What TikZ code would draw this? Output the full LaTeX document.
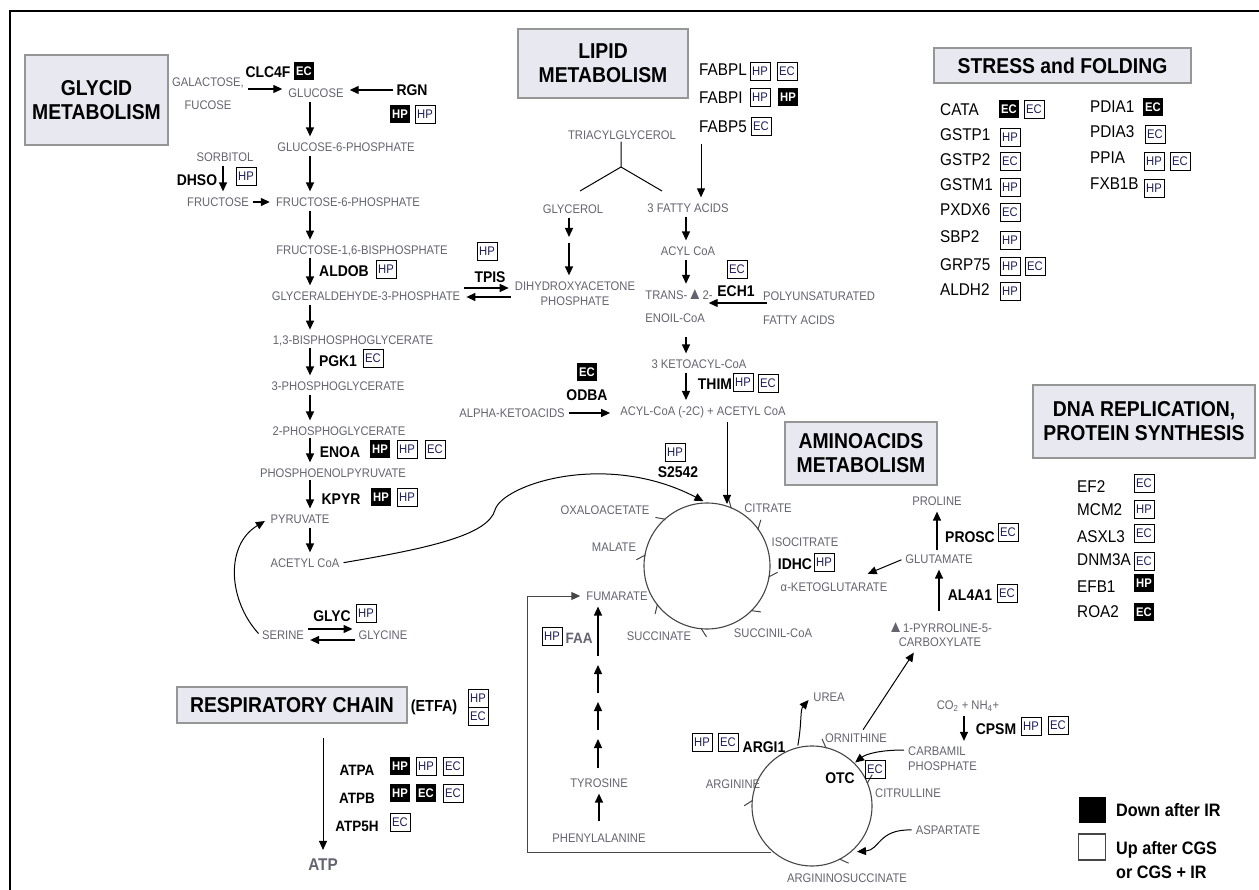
\documentclass[tikz,border=0pt]{standalone}
\usepackage{fontspec}
\setmainfont{Liberation Sans}[FakeStretch=0.9]
\usetikzlibrary{arrows.meta,decorations.markings}

\definecolor{metcol}{RGB}{100,100,112}
\definecolor{tagcol}{RGB}{30,30,90}
\definecolor{ttlfill}{RGB}{232,233,240}
\definecolor{ttlline}{RGB}{150,150,150}
\definecolor{cyccol}{RGB}{70,70,70}

\newcommand{\cycbarb}{\arrow{Straight Barb[harpoon,length=6pt,width=15pt,line width=1pt]}}
\newcommand{\dlt}{{\fontsize{17}{17}\selectfont ▲}}

\tikzset{
  met/.style={text=metcol, font=\fontsize{12.5}{14}\selectfont, inner sep=2pt},
  enz/.style={font=\bfseries\fontsize{15.5}{17}\selectfont, inner sep=1pt},
  gene/.style={anchor=west, font=\fontsize{17}{19}\selectfont, inner sep=0pt},
  ttl/.style={draw=ttlline, fill=ttlfill, line width=1.2pt, align=center, inner sep=0pt,
    font=\bfseries\fontsize{21.5}{24}\selectfont},
  tagup/.style={draw, line width=0.9pt, text=tagcol, minimum width=20pt, minimum height=18pt,
    inner sep=0pt, font=\fontsize{12.5}{13}\selectfont},
  tagdn/.style={fill=black, text=white, minimum width=20pt, minimum height=18pt,
    inner sep=0pt, font=\bfseries\fontsize{12.5}{13}\selectfont},
  arr/.style={-{Triangle[length=9pt,width=8pt]}, line width=1.3pt, shorten <=2pt, shorten >=4pt},
  arrc/.style={arr, line width=1pt},
  cyc/.style={draw=cyccol, line width=1.1pt},
  leg/.style={font=\bfseries\fontsize{18}{24}\selectfont, inner sep=0pt, anchor=west, align=left},
  tcamarks/.style={postaction={decorate}, decoration={markings,
    mark=at position 0.065 with {\cycbarb},
    mark=at position 0.153 with {\cycbarb},
    mark=at position 0.280 with {\cycbarb},
    mark=at position 0.378 with {\cycbarb},
    mark=at position 0.517 with {\cycbarb},
    mark=at position 0.647 with {\cycbarb},
    mark=at position 0.780 with {\cycbarb},
    mark=at position 0.886 with {\cycbarb}}},
  ureamarks/.style={postaction={decorate}, decoration={markings,
    mark=at position 0.040 with {\cycbarb},
    mark=at position 0.190 with {\cycbarb},
    mark=at position 0.426 with {\cycbarb},
    mark=at position 0.767 with {\cycbarb}}},
}

\begin{document}
\begin{tikzpicture}[x=1pt,y=-1pt]
  \useasboundingbox (0,0) rectangle (1259,890);
  \draw[line width=2pt] (10,890) -- (10,11) -- (1259,11);

  % titles
  \node[ttl, minimum width=143pt, minimum height=90pt] (tglycid) at (96.5,100) {GLYCID\\METABOLISM};
  \node[ttl, minimum width=170pt, minimum height=69pt] (tlipid) at (603,63.5) {LIPID\\METABOLISM};
  \node[ttl, minimum width=257pt, minimum height=35pt] (tstress) at (1062.5,65.5) {STRESS and FOLDING};
  \node[ttl, minimum width=222pt, minimum height=73pt] (tdna) at (1144,421.5) {DNA REPLICATION,\\PROTEIN SYNTHESIS};
  \node[ttl, minimum width=152pt, minimum height=63pt] (tamino) at (861,453.5) {AMINOACIDS\\METABOLISM};
  \node[ttl, minimum width=230pt, minimum height=36pt] (tresp) at (292,705) {RESPIRATORY CHAIN};

  % glycid metabolism
  \coordinate (gx) at (310,0);
  \coordinate (dx) at (223,0);
  \node[met, align=center, font=\fontsize{12.5}{23}\selectfont] (galfuc) at (208,94) {GALACTOSE,\\FUCOSE};
  \node[enz] (clc4f) at (268,72) {CLC4F};
  \node[tagdn] (clc4fa) at (304,71) {EC};
  \node[met] (glc) at (316,93) {GLUCOSE};
  \node[enz] (rgn) at (412,90) {RGN};
  \node[tagdn] (rgna) at (400,114) {HP};
  \node[tagup] (rgnb) at (425,114) {HP};
  \node[met] (g6p) at (346,147) {GLUCOSE-6-PHOSPHATE};
  \node[met] (sorb) at (225,157) {SORBITOL};
  \node[enz] (dhso) at (197,180) {DHSO};
  \node[tagup] (dhsoa) at (246,176) {HP};
  \node[met] (fru) at (218,202) {FRUCTOSE};
  \node[met] (f6p) at (348,202) {FRUCTOSE-6-PHOSPHATE};
  \node[met] (fbp) at (362,251) {FRUCTOSE-1,6-BISPHOSPHATE};
  \node[tagup] (tpisa) at (487,251) {HP};
  \node[enz] (aldob) at (344,271) {ALDOB};
  \node[tagup] (aldoba) at (386,269) {HP};
  \node[met] (ga3p) at (366,296) {GLYCERALDEHYDE-3-PHOSPHATE};
  \node[enz] (tpis) at (490,277) {TPIS};
  \node[met, align=center, font=\fontsize{12.5}{15}\selectfont] (dhap) at (575,293.5) {DIHYDROXYACETONE\\PHOSPHATE};
  \node[met] (bpg) at (353,341) {1,3-BISPHOSPHOGLYCERATE};
  \node[enz] (pgk1) at (338,361) {PGK1};
  \node[tagup] (pgk1a) at (373,358) {EC};
  \node[met] (pg3) at (338,386) {3-PHOSPHOGLYCERATE};
  \node[met] (pg2) at (339,431) {2-PHOSPHOGLYCERATE};
  \node[enz] (enoa) at (340,452) {ENOA};
  \node[tagdn] (enoaa) at (380,449) {HP};
  \node[tagup] (enoab) at (407,449) {HP};
  \node[tagup] (enoac) at (435,449) {EC};
  \node[met] (pep) at (333,473) {PHOSPHOENOLPYRUVATE};
  \node[enz] (kpyr) at (341,499) {KPYR};
  \node[tagdn] (kpyra) at (381,497) {HP};
  \node[tagup] (kpyrb) at (407,497) {HP};
  \node[met] (pyr) at (300,519) {PYRUVATE};
  \node[met] (acoa) at (305,563) {ACETYL CoA};
  \node[enz] (glyc) at (332,616) {GLYC};
  \node[tagup] (glyca) at (366,613) {HP};
  \node[met] (ser) at (283,635) {SERINE};
  \node[met] (glyn) at (383,635) {GLYCINE};

  \draw[arr] (galfuc.east |- 0,89) -- (glc.west |- 0,89);
  \draw[arr] (rgn.west) -- (glc.east |- rgn.west);
  \draw[arr] (glc.south -| gx) -- (g6p.north -| gx);
  \draw[arr] (g6p.south -| gx) -- (f6p.north -| gx);
  \draw[arr] (sorb.south -| dx) -- (fru.north -| dx);
  \draw[arr] (fru.east) -- (f6p.west);
  \draw[arr] (f6p.south -| gx) -- (fbp.north -| gx);
  \draw[arr, shorten <=0pt] (fbp.south -| gx) -- (ga3p.north -| gx);
  \draw[arr] (ga3p.south -| gx) -- (bpg.north -| gx);
  \draw[arr, shorten <=0pt] (bpg.south -| gx) -- (pg3.north -| gx);
  \draw[arr] (pg3.south -| gx) -- (pg2.north -| gx);
  \draw[arr, shorten <=0pt] (pg2.south -| gx) -- (pep.north -| gx);
  \draw[arr, shorten <=0pt] (pep.south -| gx) -- (pyr.north -| gx);
  \draw[arr] (pyr.south -| gx) -- (acoa.north -| gx);
  \draw[arr] (ga3p.east |- 0,288) -- (dhap.west |- 0,288);
  \draw[arr] (dhap.west |- 0,297) -- (ga3p.east |- 0,297);
  \draw[arr] (ser.east |- 0,629) -- (glyn.west |- 0,629);
  \draw[arr] (glyn.west |- 0,640) -- (ser.east |- 0,640);
  \draw[arrc] (ser.west) .. controls (228,600) and (225,545) .. (pyr.west);

  % lipid metabolism
  \coordinate (lx) at (686,0);
  \node[gene] (fabpl) at (699,70) {FABPL};
  \node[tagup] (fabpla) at (760,71) {HP};
  \node[tagup] (fabplb) at (787,71) {EC};
  \node[gene] (fabpi) at (699,98) {FABPI};
  \node[tagup] (fabpia) at (760,97) {HP};
  \node[tagdn] (fabpib) at (788,97) {HP};
  \node[gene] (fabp5) at (699,127) {FABP5};
  \node[tagup] (fabp5a) at (761,126) {EC};
  \node[met] (tacg) at (622,135) {TRIACYLGLYCEROL};
  \coordinate (ybr) at (621,167);
  \coordinate (ylft) at (580,191);
  \coordinate (yrgt) at (662,191);
  \coordinate (fabtop) at (701,142);
  \node[met] (gly) at (573,209) {GLYCEROL};
  \node[met] (fa) at (688,208) {3 FATTY ACIDS};
  \coordinate (glymid) at (569,241);
  \node[met] (acyl) at (688,251) {ACYL CoA};
  \node[met, align=left, font=\fontsize{12.5}{23}\selectfont] (trans) at (679,306.5) {TRANS-\dlt2-\\ENOIL-CoA};
  \node[tagup] (ech1a) at (737,269) {EC};
  \node[enz] (ech1) at (736,291) {ECH1};
  \node[met, anchor=west, align=left, font=\fontsize{12.5}{24}\selectfont] (pufa) at (761,308) {POLYUNSATURATED\\FATTY ACIDS};
  \node[met] (keto) at (699,364) {3 KETOACYL-CoA};
  \node[enz] (thim) at (715,384) {THIM};
  \node[tagup] (thima) at (743,382) {HP};
  \node[tagup] (thimb) at (768,383) {EC};
  \node[tagdn] (odbaa) at (587,372) {EC};
  \node[enz] (odba) at (587,395) {ODBA};
  \node[met] (aka) at (512,413) {ALPHA-KETOACIDS};
  \node[met] (acyl2c) at (703,412) {ACYL-CoA (-2C) + ACETYL CoA};

  \draw[line width=1pt] (tacg.south -| ybr) -- (ybr) -- (ylft);
  \draw[line width=1pt] (ybr) -- (yrgt);
  \draw[arrc] (fabtop) -- (fa.north -| fabtop);
  \draw[arr] (gly.south -| glymid) -- (glymid);
  \draw[arr] (glymid) -- (dhap.north -| glymid);
  \draw[arr] (fa.south -| lx) -- (acyl.north -| lx);
  \draw[arr] (acyl.south -| lx) -- (trans.north -| lx);
  \draw[arr, shorten <=12pt] (trans.south -| lx) -- (keto.north -| lx);
  \draw[arr] (keto.south -| lx) -- (acyl2c.north -| lx);
  \draw[arr, shorten <=-6pt, shorten >=-6pt] (pufa.west |- 0,303) -- (trans.east |- 0,303);
  \draw[arr, shorten >=8pt] (aka.east) -- (acyl2c.west |- aka.east);

  % citric acid cycle
  \coordinate (tcac) at (707,566);
  \coordinate (tcatop) at (707,503);
  \coordinate (citin) at (727,506);
  \coordinate (cx) at (727,0);
  \draw[cyc, tcamarks] (tcac) ++(-90:63) arc[start angle=-90, end angle=270, radius=63];
  \node[met] (oaa) at (605,510) {OXALOACETATE};
  \node[met] (cit) at (768,508) {CITRATE};
  \node[met] (icit) at (805,542) {ISOCITRATE};
  \node[enz] (idhc) at (795,564) {IDHC};
  \node[tagup] (idhca) at (824,562) {HP};
  \node[met] (akg) at (834,587) {α-KETOGLUTARATE};
  \node[met] (succoa) at (773,633) {SUCCINIL-CoA};
  \node[met] (succ) at (659,636) {SUCCINATE};
  \node[met] (fum) at (617,596) {FUMARATE};
  \node[met] (mal) at (614,547) {MALATE};
  \node[tagup] (s2542a) at (675,452) {HP};
  \node[enz] (s2542) at (678,472) {S2542};

  \draw[arrc] (acoa.east) .. controls (430,548) and (488,535) .. (495,510)
    .. controls (502,485) and (605,450) .. (tcatop);
  \draw[arrc, shorten >=2pt] (acyl2c.south -| cx) -- (citin);

  % amino acids metabolism
  \node[met] (pro) at (937,501) {PROLINE};
  \node[enz] (prosc) at (970,537) {PROSC};
  \node[tagup] (prosca) at (1008,532) {EC};
  \node[met] (glu) at (939,559) {GLUTAMATE};
  \node[enz] (al4a1) at (970,595) {AL4A1};
  \node[tagup] (al4a1a) at (1007,593) {EC};
  \node[met, align=center, font=\fontsize{12.5}{14}\selectfont] (p5c) at (940,635) {\dlt1-PYRROLINE-5-\\CARBOXYLATE};
  \draw[arr] (glu.north -| pro) -- (pro.south);
  \draw[arr, shorten <=10pt] (p5c.north -| glu) -- (glu.south);
  \draw[arrc] (glu.west) -- ([xshift=30pt,yshift=5pt]akg.north);

  % phenylalanine, tyrosine
  \coordinate (ch1) at (598,661);
  \coordinate (ch2) at (598,698);
  \coordinate (ch3) at (598,735);
  \node[tagup] (faaa) at (552,636) {HP};
  \node[font=\bfseries\fontsize{15}{17}\selectfont, text=metcol, inner sep=1pt] (faa) at (579,638) {FAA};
  \node[met] (tyr) at (599,783) {TYROSINE};
  \node[met] (phe) at (599,838) {PHENYLALANINE};
  \draw[arr, shorten <=11pt] (phe.north) -- (tyr.south);
  \draw[arr, shorten <=8pt] (tyr.north -| ch3) -- (ch3);
  \draw[arr, shorten <=5pt] (ch3) -- (ch2);
  \draw[arr, shorten <=5pt] (ch2) -- (ch1);
  \draw[arr, shorten <=5pt] (ch1) -- (fum.south -| ch1);

  % urea cycle
  \coordinate (uc) at (812,806);
  \coordinate (urst) at (797.5,747.5);
  \coordinate (carbin) at (852,765);
  \coordinate (aspin) at (853,852);
  \coordinate (ulft) at (773,852);
  \coordinate (brk) at (527,852);
  \coordinate (co2x) at (964,0);
  \draw[cyc, ureamarks] (uc) ++(-90:60) arc[start angle=-90, end angle=270, radius=60];
  \node[met] (urea) at (829,697) {UREA};
  \node[met] (orn) at (856,738) {ORNITHINE};
  \node[met, anchor=west, align=left, font=\fontsize{12.5}{15}\selectfont] (cp) at (906,759) {CARBAMIL\\PHOSPHATE};
  \node[met] (citr) at (908,793) {CITRULLINE};
  \node[met] (asp) at (948,830) {ASPARTATE};
  \node[met] (asuc) at (847,878) {ARGININOSUCCINATE};
  \node[met] (arg) at (733,784) {ARGININE};
  \node[enz] (otc) at (840,778) {OTC};
  \node[tagup] (otca) at (875,769) {EC};
  \node[tagup] (argi1a) at (702,742) {HP};
  \node[tagup] (argi1b) at (728,742) {EC};
  \node[enz] (argi1) at (764,747) {ARGI1};
  \node[met] (co2) at (968,706) {CO\textsubscript{2} + NH\textsubscript{4}+};
  \node[enz] (cpsm) at (996,729) {CPSM};
  \node[tagup] (cpsma) at (1031,726) {HP};
  \node[tagup] (cpsmb) at (1058,725) {EC};

  \draw[arrc] (urst) .. controls (802,722) and (800,710) .. (urea.west);
  \draw[arrc] ([xshift=6pt]orn.north) -- ([xshift=-24pt]p5c.south);
  \draw[arrc] (cp.west |- 0,750) .. controls (880,750) and (866,754) .. (carbin);
  \draw[arrc] (asp.west) .. controls (878,829) and (880,850) .. (aspin);
  \draw[arr] (co2.south -| co2x) -- (cp.north -| co2x);
  \draw[arrc, draw=cyccol] (ulft) -- (brk) |- (fum.west);

  % respiratory chain
  \coordinate (rx) at (323,0);
  \node[font=\bfseries\fontsize{16}{18}\selectfont, inner sep=1pt] (etfa) at (434,707) {(ETFA)};
  \node[tagup] (etfaa) at (478,698) {HP};
  \node[tagup] (etfab) at (478,716) {EC};
  \node[font=\bfseries\fontsize{17}{19}\selectfont, text=metcol, inner sep=1pt] (atp) at (323,865) {ATP};
  \node[enz, font=\bfseries\fontsize{15}{17}\selectfont] (atpa) at (357,770) {ATPA};
  \node[tagdn] (atpaa) at (400,766) {HP};
  \node[tagup] (atpab) at (426,766) {HP};
  \node[tagup] (atpac) at (453,766) {EC};
  \node[enz, font=\bfseries\fontsize{15}{17}\selectfont] (atpb) at (357,798) {ATPB};
  \node[tagdn] (atpba) at (400,793) {HP};
  \node[tagdn] (atpbb) at (426,793) {EC};
  \node[tagup] (atpbc) at (453,793) {EC};
  \node[enz, font=\bfseries\fontsize{15}{17}\selectfont] (atp5h) at (357,826) {ATP5H};
  \node[tagup] (atp5ha) at (400,822) {EC};
  \draw[arrc, shorten <=14pt, shorten >=8pt] (tresp.south -| rx) -- (atp.north -| rx);

  % stress and folding
  \node[gene] (cata) at (940,110) {CATA};
  \node[tagdn] (cataa) at (1009,109) {EC};
  \node[tagup] (catab) at (1034,109) {EC};
  \node[gene] (gstp1) at (940,135) {GSTP1};
  \node[tagup] (gstp1a) at (1010,137) {HP};
  \node[gene] (gstp2) at (940,160) {GSTP2};
  \node[tagup] (gstp2a) at (1010,161) {EC};
  \node[gene] (gstm1) at (940,185) {GSTM1};
  \node[tagup] (gstm1a) at (1010,187) {HP};
  \node[gene] (pxdx6) at (940,210) {PXDX6};
  \node[tagup] (pxdx6a) at (1010,212) {EC};
  \node[gene] (sbp2) at (940,237) {SBP2};
  \node[tagup] (sbp2a) at (1010,240) {HP};
  \node[gene] (grp75) at (940,265) {GRP75};
  \node[tagup] (grp75a) at (1010,266) {HP};
  \node[tagup] (grp75b) at (1035,266) {EC};
  \node[gene] (aldh2) at (940,290) {ALDH2};
  \node[tagup] (aldh2a) at (1010,291) {HP};
  \node[gene] (pdia1) at (1090,107) {PDIA1};
  \node[tagdn] (pdia1a) at (1153,107) {EC};
  \node[gene] (pdia3) at (1090,132) {PDIA3};
  \node[tagup] (pdia3a) at (1155,134) {EC};
  \node[gene] (ppia) at (1090,158) {PPIA};
  \node[tagup] (ppiaa) at (1154,161) {HP};
  \node[tagup] (ppiab) at (1180,161) {EC};
  \node[gene] (fxb1b) at (1090,184) {FXB1B};
  \node[tagup] (fxb1ba) at (1154,188) {HP};

  % dna replication, protein synthesis
  \node[gene] (ef2) at (1077,487) {EF2};
  \node[tagup] (ef2a) at (1144,483) {EC};
  \node[gene] (mcm2) at (1077,510) {MCM2};
  \node[tagup] (mcm2a) at (1144,509) {HP};
  \node[gene] (asxl3) at (1077,537) {ASXL3};
  \node[tagup] (asxl3a) at (1144,533) {EC};
  \node[gene] (dnm3a) at (1077,560) {DNM3A};
  \node[tagup] (dnm3aa) at (1144,561) {EC};
  \node[gene] (efb1) at (1077,587) {EFB1};
  \node[tagdn] (efb1a) at (1144,583) {HP};
  \node[gene] (roa2) at (1077,612) {ROA2};
  \node[tagdn] (roa2a) at (1144,612) {EC};

  % legend
  \node[fill=black, minimum width=27pt, minimum height=26pt, inner sep=0pt] (legdn) at (1092,810) {};
  \node[draw=cyccol, line width=1.2pt, minimum width=27pt, minimum height=26pt, inner sep=0pt] (legup) at (1092,847) {};
  \node[leg] (legdntx) at (1116,810) {Down after IR};
  \node[leg] (leguptx) at (1116,860) {Up after CGS\\or CGS + IR};
\end{tikzpicture}
\end{document}
